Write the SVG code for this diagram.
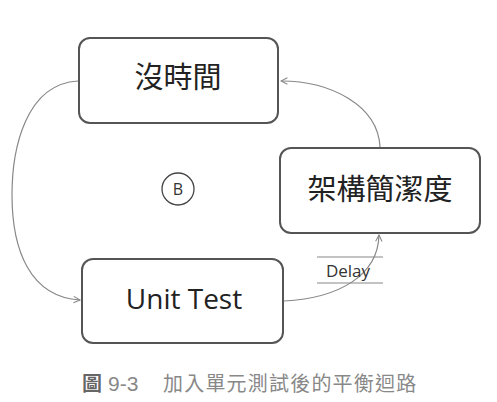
<svg xmlns="http://www.w3.org/2000/svg" width="497" height="402" viewBox="0 0 497 402">
<style>
.box{fill:#fff;stroke:#555;stroke-width:2}
.lbl{font-family:"Noto Sans CJK TC","Noto Sans",sans-serif;font-size:29px;fill:#222;text-anchor:middle}
.en{font-family:"Open Sans","Noto Sans",sans-serif;font-size:28px;fill:#222;text-anchor:middle}
.con{fill:none;stroke:#888;stroke-width:1.2}
.cap{font-family:"Noto Sans CJK TC","Noto Sans",sans-serif;font-size:20px;fill:#888}
</style>
<defs>
<marker id="ah" viewBox="0 0 10 10" refX="9" refY="5" markerWidth="8" markerHeight="8" orient="auto" markerUnits="userSpaceOnUse">
<path d="M1 1 L9 5 L1 9" fill="none" stroke="#888" stroke-width="1.3"/>
</marker>
</defs>
<rect width="497" height="402" fill="#fff"/>
<g id="connectors">
<path class="con" d="M78 81 C25 84 12 150 12 195 C12 250 30 297 80 300" marker-end="url(#ah)"/>
<path class="con" d="M380 147 C378 105 330 81 281 81" marker-end="url(#ah)"/>
<path class="con" d="M284 301 C340 298 378 275 379 235" marker-end="url(#ah)"/>
<g id="delay">
<line x1="317" y1="257" x2="383" y2="257" stroke="#888" stroke-width="1.2"/>
<line x1="317" y1="283" x2="383" y2="283" stroke="#888" stroke-width="1.2"/>
<text x="348" y="277" font-family="'Open Sans','Noto Sans',sans-serif" font-size="17" fill="#333" text-anchor="middle">Delay</text>
</g>
</g>
<g id="node-notime">
<rect class="box" x="79" y="38" width="199" height="85" rx="11"/>
<text class="lbl" x="178" y="88">沒時間</text>
</g>
<g id="node-arch">
<rect class="box" x="280" y="148" width="200" height="85" rx="11"/>
<text class="lbl" x="380" y="200">架構簡潔度</text>
</g>
<g id="node-unittest">
<rect class="box" x="82" y="259" width="201" height="84" rx="11"/>
<text class="en" x="184" y="309">Unit Test</text>
</g>
<g id="loop-b">
<circle cx="178" cy="189" r="16" fill="none" stroke="#444" stroke-width="1.3"/>
<text x="178" y="195" font-family="'Open Sans','Noto Sans',sans-serif" font-size="16" fill="#333" text-anchor="middle">B</text>
</g>
<text class="cap" x="82" y="391"><tspan font-weight="bold" fill="#666">圖</tspan><tspan x="108" font-family="'Liberation Sans',sans-serif" font-size="21">9-3</tspan><tspan x="163" letter-spacing="1.2">加入單元測試後的平衡迴路</tspan></text>
</svg>
